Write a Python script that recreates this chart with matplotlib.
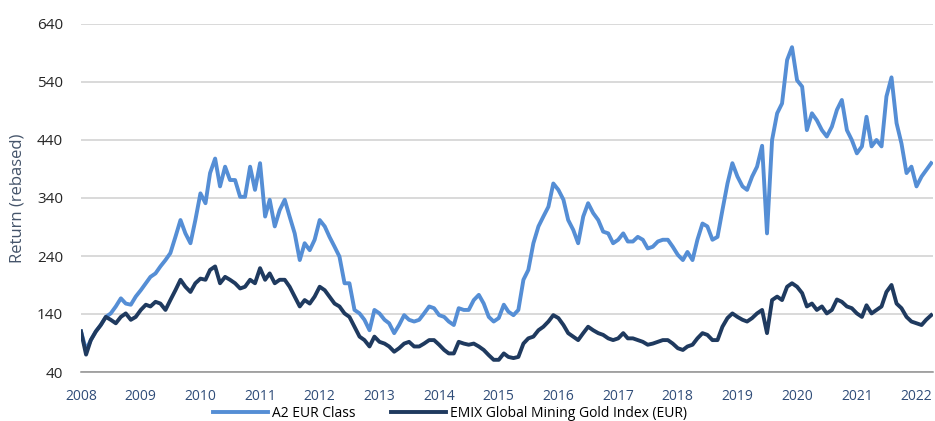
import matplotlib.pyplot as plt
import matplotlib.dates as mdates
import pandas as pd

# monthly readings, Jan 2008 .. Apr 2022
a2_eur = [110, 78, 95, 110, 121, 135, 141, 153, 167, 158, 156, 170,
          181, 193, 204, 210, 222, 233, 245, 273, 302, 279, 262, 302,
          348, 331, 383, 408, 360, 394, 371, 371, 342, 342, 394, 354,
          400, 308, 337, 291, 319, 337, 308, 279, 233, 262, 250, 268,
          302, 291, 273, 256, 239, 193, 193, 147, 141, 130, 112, 147,
          141, 130, 124, 107, 121, 138, 130, 127, 130, 141, 153, 150,
          138, 135, 127, 121, 150, 147, 147, 164, 173, 158, 135, 127,
          133, 156, 144, 138, 147, 199, 216, 262, 291, 308, 325, 365,
          354, 337, 302, 285, 262, 308, 331, 314, 302, 282, 279, 262,
          268, 279, 265, 265, 273, 268, 253, 256, 265, 268, 268, 256,
          242, 233, 247, 233, 268, 296, 291, 268, 273, 319, 365, 400,
          377, 360, 354, 377, 394, 430, 279, 440, 486, 503, 578, 600,
          543, 532, 457, 486, 474, 457, 446, 463, 492, 509, 457, 440,
          417, 429, 480, 429, 440, 429, 515, 548, 469, 434, 383, 394,
          360, 377, 388, 400]

emix_gold = [110, 70, 95, 110, 121, 135, 130, 124, 135, 141, 130, 135,
             147, 156, 153, 161, 158, 147, 164, 181, 199, 187, 178, 193,
             201, 199, 216, 222, 193, 204, 199, 193, 184, 187, 199, 193,
             219, 199, 210, 193, 199, 199, 187, 170, 153, 164, 158, 170,
             187, 181, 170, 158, 153, 141, 135, 118, 101, 95, 84, 101,
             92, 89, 84, 75, 81, 89, 92, 84, 84, 89, 95, 95,
             87, 78, 72, 72, 92, 89, 87, 89, 84, 78, 69, 61,
             61, 72, 66, 64, 66, 89, 98, 101, 112, 118, 127, 138,
             133, 121, 107, 101, 95, 107, 118, 112, 107, 104, 98, 95,
             98, 107, 98, 98, 95, 92, 87, 89, 92, 95, 95, 89,
             81, 78, 84, 87, 98, 107, 104, 95, 95, 118, 133, 141,
             135, 130, 127, 133, 141, 147, 107, 164, 170, 164, 187, 193,
             187, 176, 153, 158, 147, 153, 141, 147, 165, 161, 153, 150,
             141, 135, 155, 141, 147, 153, 178, 190, 158, 150, 135, 127,
             124, 121, 130, 138]

dates = pd.date_range('2008-01-01', periods=len(a2_eur), freq='MS')

plt.rcParams['font.family'] = ['Open Sans', 'DejaVu Sans']

fig = plt.figure(figsize=(9.35, 4.21), dpi=100)
ax = fig.add_axes([81 / 935, 1 - 372 / 421, 852 / 935, 348 / 421])

ax.plot(dates, a2_eur, color='#558ED5', lw=2.8, label='A2 EUR Class')
ax.plot(dates, emix_gold, color='#1F3A5F', lw=2.8,
        label='EMIX Global Mining Gold Index (EUR)')

ax.set_ylim(40, 640)
ax.set_yticks(range(40, 641, 100))
ax.set_xlim(pd.Timestamp('2008-01-01'), pd.Timestamp('2022-04-12'))
ax.xaxis.set_major_locator(mdates.YearLocator())
ax.xaxis.set_major_formatter(mdates.DateFormatter('%Y'))

ax.grid(axis='y', color='#D0D0D0', lw=1.1)
ax.set_axisbelow(True)
for s in ['top', 'right', 'left']:
    ax.spines[s].set_visible(False)
ax.spines['bottom'].set_color('#909090')
ax.spines['bottom'].set_linewidth(1.1)
ax.tick_params(length=0)
ax.tick_params(axis='y', labelsize=11, labelcolor='#262626', pad=13)
ax.tick_params(axis='x', labelsize=10, labelcolor='#2F4C78', pad=12)

ax.set_ylabel('Return (rebased)', fontsize=12, color='#44546A')
ax.yaxis.set_label_coords(-(81 - 26) / 852, 0.5)

ax.legend(loc='center', bbox_to_anchor=(0.433, -0.12), ncol=2,
          frameon=False, fontsize=10, handlelength=4.0, columnspacing=2.5,
          handletextpad=0.3)

fig.savefig('out.png', dpi=100)
